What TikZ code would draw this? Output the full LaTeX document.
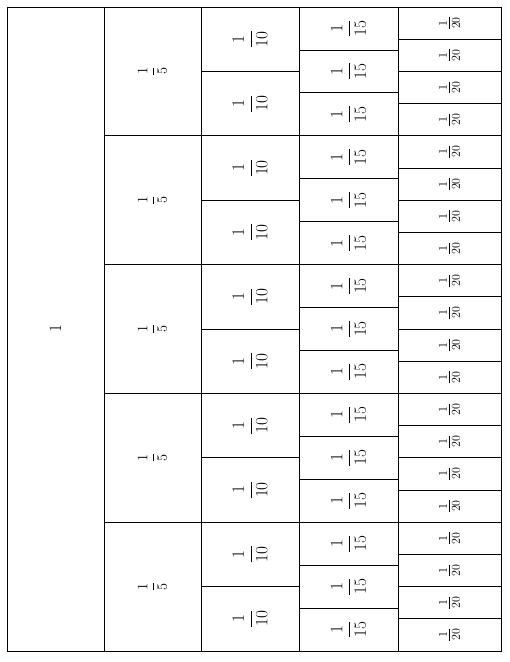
\documentclass[tikz,border=0pt]{standalone}
\usepackage{amsmath}
\begin{document}
\begin{tikzpicture}[x=1pt, y=-1pt,
  cell/.style={rectangle, draw, line width=0.8pt, rotate=90, inner sep=0pt, font=\LARGE}]

		\useasboundingbox (0,0) rectangle (510,662);

		\node[cell, minimum width=644pt, minimum height=97pt] (whole) at (55.5,329) {$1$};

		\foreach \i in {1,...,5}
			\node[cell, minimum width=128.8pt, minimum height=97pt, font=\Large] (fifth\i) at (152.5,{7+(\i-0.5)*128.8}) {$\dfrac{1}{5}$};
		\foreach \i in {1,...,10}
			\node[cell, minimum width=64.4pt, minimum height=98pt] (tenth\i) at (250,{7+(\i-0.5)*64.4}) {$\dfrac{1}{10}$};
		\foreach \i in {1,...,15}
			\node[cell, minimum width=42.933pt, minimum height=99pt] (fifteenth\i) at (348.5,{7+(\i-0.5)*42.933}) {$\dfrac{1}{15}$};
		\foreach \i in {1,...,20}
			\node[cell, minimum width=32.2pt, minimum height=103pt] (twentieth\i) at (449.5,{7+(\i-0.5)*32.2}) {$\frac{1}{20}$};
    \end{tikzpicture}
\end{document}
